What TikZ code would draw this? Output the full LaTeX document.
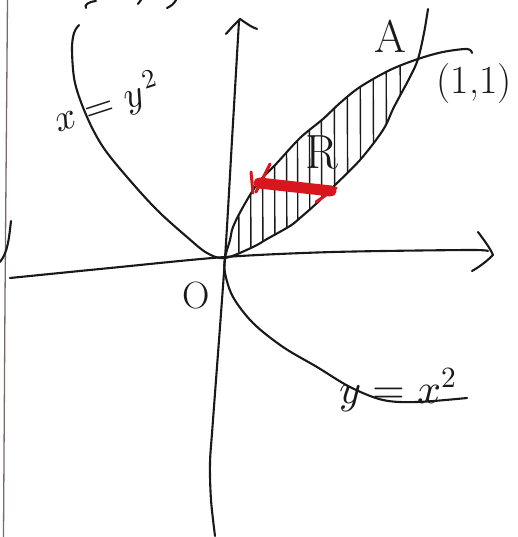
\documentclass[tikz,border=0pt]{standalone}
\usepackage{unicode-math}
\definecolor{ink}{RGB}{25,25,25}
\definecolor{marginc}{RGB}{125,105,105}
\definecolor{pen}{RGB}{215,22,30}
\begin{document}
\begin{tikzpicture}[x=1pt,y=-1pt,
  stroke/.style={draw=ink, line width=2.1pt, line cap=round, line join=round},
  hatchline/.style={draw=ink, line width=1.4pt, line cap=round},
  lbl/.style={inner sep=0pt, text=ink},
  redmark/.style={draw=pen, line cap=round, line join=round}]
\useasboundingbox (0,0) rectangle (517,537);
\fill[white] (0,0) rectangle (517,537);

% paper margin line
\draw[draw=marginc, line width=1.3pt] (7.5,0) -- (5,300) -- (3.5,537);

% cut-off fragments at the edges
\draw[stroke] (96,1) .. controls (88,2) and (84,5) .. (86,8);
\draw[stroke] (141,0) -- (138,4);
\draw[stroke] (176,0) .. controls (174,4) and (171,6) .. (167,8);
\draw[stroke] (11,221) .. controls (9,238) and (8,252) .. (0,262);

% named points
\coordinate (O) at (225,258);
\coordinate (A) at (418,59);
\coordinate (xend) at (488,251);
\coordinate (yend) at (239,21);

% hatching of R
\begin{scope}
\clip plot[smooth, tension=0.6] coordinates {(225,258) (230,240) (233,227) (243,207) (258,183) (277,163) (300,138) (323,119) (340,103) (360,87) (390,70) (418,59)}
  -- plot[smooth, tension=0.6] coordinates {(418,59) (410,77) (394,107) (383,130) (360,160) (333,187) (317,203) (300,218) (290,226) (267,239) (253,247) (225,258)} -- cycle;
\foreach \hx in {238,250,262,274,286,297,309,321,334,347,360,373,386,400}
  \draw[hatchline] (\hx,30) -- (\hx+1,265);
\end{scope}

% axes
\draw[stroke] plot[smooth, tension=0.5] coordinates {(10,278) (110,268) (225,257) (333,252) (467,250) (488,251)};
\draw[stroke] (478,232) .. controls (484,240) and (490,248) .. (493,255) .. controls (486,262) and (479,267) .. (472,271);
\draw[stroke] plot[smooth, tension=0.5] coordinates {(215,536) (211,500) (210,463) (213,420) (225,258) (232,140) (239,21)};
\draw[stroke] (226,34) .. controls (231,28) and (236,23) .. (240,19) .. controls (246,23) and (251,27) .. (257,29);

% parabola y = x^2 (left branch and steep right branch)
\draw[stroke] plot[smooth, tension=0.55] coordinates {(79,25) (74,33) (72,50) (75,83) (87,117) (103,147) (127,177) (157,210) (187,237) (207,253) (225,258) (253,247) (267,239) (290,226) (300,218) (317,203) (333,187) (360,160) (383,130) (394,107) (410,77) (418,59) (424,33) (428,9)};

% parabola x = y^2 (upper and lower branches)
\draw[stroke] plot[smooth, tension=0.55] coordinates {(472,53) (467,49) (443,52) (418,59) (390,70) (360,87) (340,103) (323,119) (300,138) (277,163) (258,183) (243,207) (233,227) (230,240) (225,258) (225,273) (233,297) (253,323) (283,347) (317,367) (350,387) (383,400) (417,402) (467,398)};

% red strip
\draw[redmark, line width=11pt] (259,183) -- (331,191);
\draw[redmark, line width=3pt] (270,164) -- (256,192);
\draw[redmark, line width=3pt] (251,172) -- (253,193);
\draw[redmark, line width=3pt] (316,202) -- (336,188);

% labels
\node[lbl, rotate=18, font=\fontsize{38}{38}\selectfont] (lxy) at (107,104) {$x=y^{\mkern3mu 2}$};
\node[lbl, font=\fontsize{42}{42}\selectfont] (lyx) at (398,390) {$y=x^{2}$};
\node[lbl, font=\fontsize{46}{46}\selectfont] (lA) at (390,36) {A};
\node[lbl, font=\fontsize{40}{40}\selectfont] (l11) at (474,84) {(1,1)};
\node[lbl, font=\fontsize{48}{48}\selectfont] (lR) at (322,152) {R};
\node[lbl, font=\fontsize{38}{38}\selectfont] (lO) at (196,296) {O};
\end{tikzpicture}
\end{document}
